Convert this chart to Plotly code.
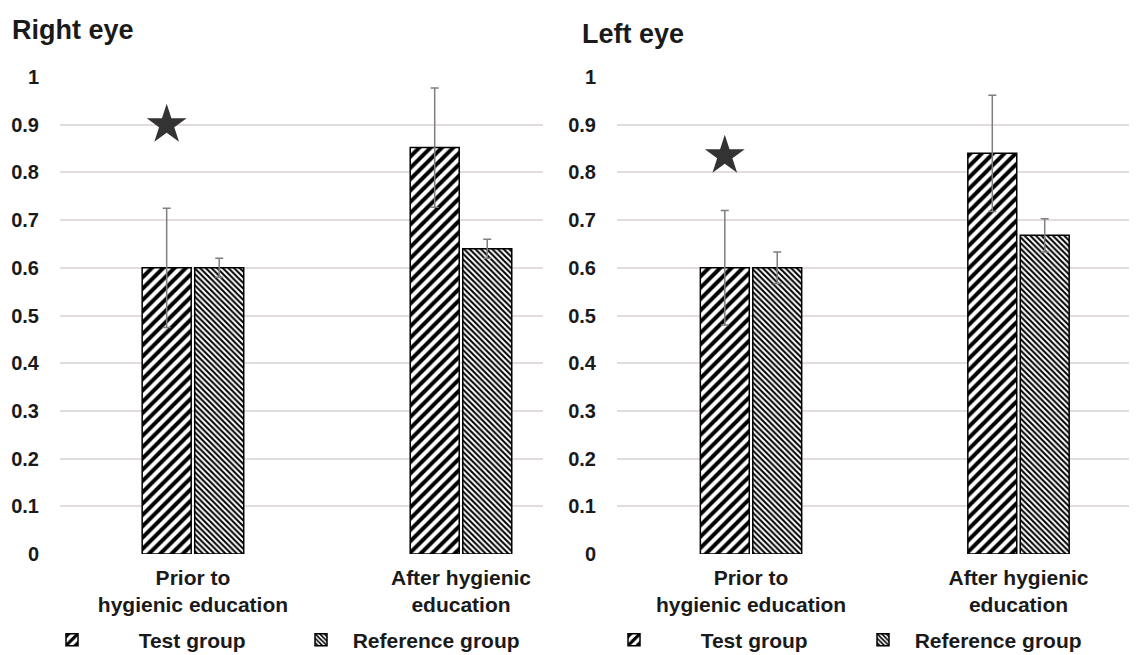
import plotly.graph_objects as go

categories = ["Prior to<br>hygienic education", "After hygienic<br>education"]
cat_pos = [0, 1]

right_test = [0.60, 0.852]
right_test_err = [0.125, 0.125]
right_ref = [0.60, 0.64]
right_ref_err = [0.02, 0.02]

left_test = [0.60, 0.84]
left_test_err = [0.12, 0.122]
left_ref = [0.60, 0.668]
left_ref_err = [0.033, 0.035]

star_right = 0.90
star_left = 0.835

y_ticks = [0, 0.1, 0.2, 0.3, 0.4, 0.5, 0.6, 0.7, 0.8, 0.9, 1]
y_ticktext = ["0", "0.1", "0.2", "0.3", "0.4", "0.5", "0.6", "0.7", "0.8", "0.9", "1"]

FONT = "Arial, Liberation Sans, sans-serif"
TXT = "#1a1a1a"
BARGAP = 0.608
BARGROUPGAP = 0.067

test_pattern = dict(shape="/", size=8, solidity=0.5, fgcolor="black", bgcolor="white", fgopacity=1, fillmode="overlay")
ref_pattern = dict(shape="\\", size=4, solidity=0.5, fgcolor="black", bgcolor="white", fgopacity=1, fillmode="overlay")
err_style = dict(type="data", visible=True, color="#7f7f7f", thickness=1.5, width=4)

fig = go.Figure()

def add_panel(xa, ya, test, test_err, ref, ref_err, legend):
    fig.add_trace(go.Bar(
        x=cat_pos, y=test, name="\u00a0" * 8 + "Test group", xaxis=xa, yaxis=ya,
        marker=dict(color="white", pattern=test_pattern, line=dict(color="black", width=1.5)),
        error_y=dict(array=test_err, **err_style), legend=legend, showlegend=True,
    ))
    fig.add_trace(go.Bar(
        x=cat_pos, y=ref, name="\u00a0" * 2 + "Reference group", xaxis=xa, yaxis=ya,
        marker=dict(color="white", pattern=ref_pattern, line=dict(color="black", width=1.5)),
        error_y=dict(array=ref_err, **err_style), legend=legend, showlegend=True,
    ))

add_panel("x", "y", right_test, right_test_err, right_ref, right_ref_err, "legend")
add_panel("x2", "y2", left_test, left_test_err, left_ref, left_ref_err, "legend2")

slot = (1 - BARGAP) / 2
fig.add_trace(go.Scatter(x=[cat_pos[0] - slot / 2], y=[star_right], mode="markers", xaxis="x", yaxis="y",
                         marker=dict(symbol="star", size=30, color="#333333"), showlegend=False, hoverinfo="skip"))
fig.add_trace(go.Scatter(x=[cat_pos[0] - slot / 2], y=[star_left], mode="markers", xaxis="x2", yaxis="y2",
                         marker=dict(symbol="star", size=30, color="#333333"), showlegend=False, hoverinfo="skip"))

# page body has an 8px margin, so the figure is sized to fit the window
W, H = 1129, 647
OFF = 8
y_dom = [1 - (554 - OFF) / H, 1 - (77 - OFF) / H]

xcommon = dict(tickmode="array", tickvals=cat_pos, ticktext=categories, showgrid=False, zeroline=False,
               showline=False, ticks="", tickfont=dict(family=FONT, size=21, color=TXT, weight="bold"),
               ticklabelstandoff=9, fixedrange=True, automargin=False)
ycommon = dict(range=[0, 1], tickmode="array", tickvals=y_ticks, ticktext=y_ticktext, showgrid=True,
               gridcolor="#e2dcdc", gridwidth=1.5, zeroline=False, showline=False, ticks="",
               tickfont=dict(family=FONT, size=20, color=TXT, weight="bold"), ticklabelstandoff=20,
               automargin=False)

legcommon = dict(orientation="h", yanchor="middle", y=1 - (640 - OFF) / H, xanchor="left",
                 font=dict(family=FONT, size=21, color=TXT, weight="bold"), bgcolor="rgba(0,0,0,0)",
                 entrywidth=204, entrywidthmode="pixels", traceorder="normal", itemclick=False)

fig.update_layout(
    template="none",
    width=W, height=H, margin=dict(l=0, r=0, t=0, b=0, autoexpand=False),
    paper_bgcolor="white", plot_bgcolor="white",
    barmode="group", bargap=BARGAP, bargroupgap=BARGROUPGAP,
    xaxis=dict(domain=[(60 - OFF) / W, (543 - OFF) / W], range=[-0.496, 1.306], anchor="y", **xcommon),
    yaxis=dict(domain=y_dom, anchor="x", **ycommon),
    xaxis2=dict(domain=[(617 - OFF) / W, 1.0], range=[-0.501, 1.443], anchor="y2", **xcommon),
    yaxis2=dict(domain=y_dom, anchor="x2", **ycommon),
    legend=dict(x=44 / W, **legcommon),
    legend2=dict(x=606 / W, **legcommon),
    annotations=[
        dict(text="Right eye", x=2 / W, y=1 - 22 / H, xref="paper", yref="paper", xanchor="left", yanchor="middle",
             showarrow=False, font=dict(family=FONT, size=27, color=TXT, weight="bold")),
        dict(text="Left eye", x=572 / W, y=1 - 26 / H, xref="paper", yref="paper", xanchor="left", yanchor="middle",
             showarrow=False, font=dict(family=FONT, size=27, color=TXT, weight="bold")),
    ],
)

fig.write_html("out.html")
